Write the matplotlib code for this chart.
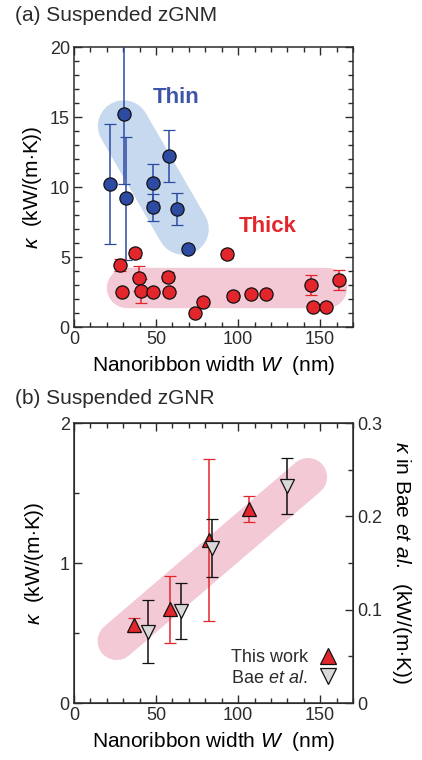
import matplotlib
matplotlib.use("Agg")
import matplotlib.pyplot as plt
from matplotlib.lines import Line2D
from matplotlib.ticker import MultipleLocator

plt.rcParams['font.family'] = ['Liberation Sans', 'DejaVu Sans']
plt.rcParams['mathtext.fontset'] = 'custom'
plt.rcParams['mathtext.rm'] = 'Liberation Sans'
plt.rcParams['mathtext.it'] = 'Liberation Sans:italic'
plt.rcParams['text.color'] = '#2b2b2b'
plt.rcParams['axes.edgecolor'] = '#2b2b2b'
plt.rcParams['xtick.color'] = '#2b2b2b'
plt.rcParams['ytick.color'] = '#2b2b2b'

# (a) suspended zGNM, thin samples
thin_w = [22.2, 30.2, 31.8, 48.0, 48.3, 58.0, 62.6, 69.5]
thin_k = [10.2, 15.2, 9.2, 10.3, 8.55, 12.2, 8.43, 5.55]
thin_err = [4.3, 5.0, 4.4, 1.35, 0.95, 1.85, 1.13, 0.2]

# (a) suspended zGNM, thick samples
thick_w = [27.8, 29.4, 36.9, 39.5, 40.9, 48.3, 57.0, 57.6, 73.7, 78.5,
           93.2, 96.9, 108.0, 117.0, 144.6, 145.6, 153.7, 161.7]
thick_k = [4.43, 2.52, 5.26, 3.48, 2.6, 2.52, 3.6, 2.52, 0.98, 1.76,
           5.2, 2.21, 2.36, 2.36, 3.0, 1.4, 1.4, 3.36]
thick_err = [0.4, 0.0, 0.3, 0.9, 0.85, 0.0, 0.3, 0.0, 0.0, 0.0,
             0.3, 0.3, 0.2, 0.2, 0.7, 0.0, 0.0, 0.68]

# (b) suspended zGNR, this work (left axis)
gnr_w = [36.3, 58.6, 82.2, 106.8]
gnr_k = [0.557, 0.67, 1.164, 1.386]
gnr_err = [0.05, 0.24, 0.58, 0.09]

# (b) Bae et al. (right axis)
bae_w = [44.9, 65.0, 84.2, 129.5]
bae_k = [0.0764, 0.099, 0.166, 0.232]
bae_err = [0.034, 0.03, 0.031, 0.03]

# guide bands (centre line end points)
thin_band = ([30.2, 66.5], [14.36, 7.0])
thick_band = ([32.0, 154.0], [2.79, 2.79])
gnr_band = ([26.0, 142.6], [0.443, 1.614])

blue = '#2e4ba3'
red = '#e3262b'
grey = '#d9d9d9'
dark = '#2b2b2b'


def style_axis(ax, ymajor, yminor, right=True):
    ax.set_xlim(0, 170)
    ax.xaxis.set_major_locator(MultipleLocator(50))
    ax.xaxis.set_minor_locator(MultipleLocator(10))
    ax.yaxis.set_major_locator(MultipleLocator(ymajor))
    ax.yaxis.set_minor_locator(MultipleLocator(yminor))
    ax.tick_params(which='both', direction='in', top=True, right=right,
                   labelsize=13, width=1.0, pad=3)
    ax.tick_params(which='major', length=6)
    ax.tick_params(which='minor', length=3.5)
    for s in ax.spines.values():
        s.set_linewidth(1.1)


fig = plt.figure(figsize=(4.22, 7.6), dpi=100)

# ---- panel (a)
axa = fig.add_axes([0.1754, 0.5697, 0.661, 0.3684])
axa.plot(*thin_band, color='#c6d9ee', lw=37, solid_capstyle='round', zorder=0)
axa.plot(*thick_band, color='#f4c9d6', lw=29, solid_capstyle='round', zorder=0)
axa.errorbar(thin_w, thin_k, yerr=thin_err, fmt='o', ms=9.5, mfc=blue, mec='#111111',
             mew=0.9, ecolor=blue, elinewidth=1.1, capsize=4.5, capthick=1.1, zorder=3)
axa.errorbar(thick_w, thick_k, yerr=thick_err, fmt='o', ms=9.5, mfc=red, mec='#111111',
             mew=0.9, ecolor=red, elinewidth=1.1, capsize=4.5, capthick=1.1, zorder=3)
axa.set_ylim(0, 20)
style_axis(axa, 5, 1)
axa.text(62, 16.4, 'Thin', color='#3d55a8', fontsize=16, fontweight='bold',
         ha='center', va='center')
axa.text(118, 7.2, 'Thick', color=red, fontsize=16, fontweight='bold',
         ha='center', va='center')
axa.set_xlabel(r'Nanoribbon width $W$  (nm)', fontsize=15, labelpad=4)
axa.set_ylabel(r'$\kappa$  (kW/(m$\cdot$K))', fontsize=15, labelpad=4)
fig.text(0.035, 0.98, '(a) Suspended zGNM', fontsize=15, ha='left', va='center')

# ---- panel (b)
axb = fig.add_axes([0.1754, 0.075, 0.661, 0.3684])
axb.plot(*gnr_band, color='#f4c9d6', lw=27.5, solid_capstyle='round', zorder=0)
axb.errorbar(gnr_w, gnr_k, yerr=gnr_err, fmt='^', ms=10.5, mfc=red, mec='#111111',
             mew=0.9, ecolor=red, elinewidth=1.1, capsize=4.5, capthick=1.1, zorder=3)
axb.set_ylim(0, 2)
style_axis(axb, 1, 0.5, right=False)
axb.set_xlabel(r'Nanoribbon width $W$  (nm)', fontsize=15, labelpad=4)
axb.set_ylabel(r'$\kappa$  (kW/(m$\cdot$K))', fontsize=15, labelpad=10)

ax2 = axb.twinx()
ax2.errorbar(bae_w, bae_k, yerr=bae_err, fmt='v', ms=10.5, mfc=grey, mec='#111111',
             mew=0.9, ecolor='#111111', elinewidth=1.1, capsize=4.5, capthick=1.1, zorder=3)
ax2.set_ylim(0, 0.3)
ax2.set_yticks([0, 0.1, 0.2, 0.3])
ax2.set_yticklabels(['0', '0.1', '0.2', '0.3'])
ax2.yaxis.set_minor_locator(MultipleLocator(0.05))
ax2.tick_params(which='both', direction='in', labelsize=13, width=1.0, pad=3)
ax2.tick_params(which='major', length=6)
ax2.tick_params(which='minor', length=3.5)
ax2.set_ylabel(r'$\kappa$ in Bae $et\ al.$  (kW/(m$\cdot$K))', fontsize=15,
               rotation=270, labelpad=22)

handles = [Line2D([], [], ls='none', marker='^', ms=11, mfc=red, mec='#111111', mew=0.9),
           Line2D([], [], ls='none', marker='v', ms=11, mfc=grey, mec='#111111', mew=0.9)]
ax2.legend(handles, ['This work', r'Bae $et\ al.$'], loc='lower right',
           markerfirst=False, frameon=False, fontsize=13, handlelength=1.0,
           handletextpad=0.6, labelspacing=0.2, borderaxespad=0.5)
fig.text(0.035, 0.476, '(b) Suspended zGNR', fontsize=15, ha='left', va='center')

fig.savefig('out.png', dpi=100)
